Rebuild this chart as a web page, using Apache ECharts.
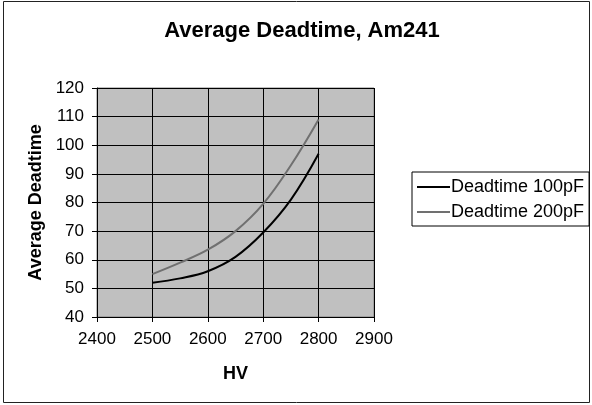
<!DOCTYPE html>
<html>
<head>
<meta charset="utf-8">
<script src="https://cdn.jsdelivr.net/npm/echarts@6/dist/echarts.min.js"></script>
<style>
  html, body { margin: 0; padding: 0; background: #fff; }
  #chart { width: 592px; height: 405px; }
</style>
</head>
<body>
<div id="chart"></div>
<script>
// HV values (x) and average deadtime per capacitance
const hv = [2500, 2550, 2600, 2650, 2700, 2750, 2800]
const dead100 = [52, 53.5, 56, 61, 69.5, 81, 97]
const dead200 = [55, 59, 63.5, 70, 79.5, 93, 109]
const seriesNames = ['Deadtime 100pF', 'Deadtime 200pF']

const font = 'Arial, "Liberation Sans", sans-serif'
const myChart = echarts.init(document.getElementById('chart'))

const pairs = (xs, ys) => xs.map((x, i) => [x, ys[i]])

const option = {
  backgroundColor: '#fff',
  animation: false,
  title: {
    text: 'Average Deadtime, Am241',
    left: 297,
    top: 15,
    textAlign: 'center',
    textStyle: { fontFamily: font, fontSize: 22, fontWeight: 'bold', color: '#000' }
  },
  graphic: [
    {
      type: 'rect',
      shape: { x: 3.5, y: 1.5, width: 586, height: 401 },
      style: { fill: 'none', stroke: '#222', lineWidth: 1 }
    }
  ],
  legend: {
    orient: 'vertical',
    left: 412,
    top: 172,
    padding: [6, 5, 5, 5],
    itemGap: 7,
    itemWidth: 33,
    itemHeight: 2,
    borderColor: '#000',
    borderWidth: 1,
    icon: 'rect',
    textStyle: { fontFamily: font, fontSize: 18, color: '#000', padding: [0, 0, 0, -4] },
    data: seriesNames
  },
  grid: {
    left: 97,
    top: 88,
    width: 277,
    height: 229,
    show: true,
    backgroundColor: '#c0c0c0',
    borderColor: '#808080',
    borderWidth: 1
  },
  xAxis: {
    type: 'value',
    min: 2400,
    max: 2900,
    interval: 100,
    name: 'HV',
    nameLocation: 'middle',
    nameGap: 48,
    nameTextStyle: { fontFamily: font, fontSize: 18, fontWeight: 'bold', color: '#000' },
    axisLine: { lineStyle: { color: '#000', width: 1 } },
    axisTick: { show: true, length: 5, lineStyle: { color: '#000' } },
    axisLabel: { fontFamily: font, fontSize: 17, color: '#000', margin: 14, formatter: v => String(v) },
    splitLine: { show: true, lineStyle: { color: '#000', width: 1 } }
  },
  yAxis: {
    type: 'value',
    min: 40,
    max: 120,
    interval: 10,
    name: 'Average Deadtime',
    nameLocation: 'middle',
    nameGap: 52,
    nameTextStyle: { fontFamily: font, fontSize: 18, fontWeight: 'bold', color: '#000' },
    axisLine: { show: true, lineStyle: { color: '#000', width: 1 } },
    axisTick: { show: true, length: 5, lineStyle: { color: '#000' } },
    axisLabel: { fontFamily: font, fontSize: 17, color: '#000', margin: 13 },
    splitLine: { show: true, lineStyle: { color: '#000', width: 1 } }
  },
  series: [
    {
      name: seriesNames[0],
      type: 'line',
      smooth: 0.4,
      showSymbol: false,
      color: '#000',
      lineStyle: { color: '#000', width: 2 },
      data: pairs(hv, dead100)
    },
    {
      name: seriesNames[1],
      type: 'line',
      smooth: 0.4,
      showSymbol: false,
      color: '#707070',
      lineStyle: { color: '#707070', width: 2 },
      data: pairs(hv, dead200)
    }
  ]
}

myChart.setOption(option)
</script>
</body>
</html>
